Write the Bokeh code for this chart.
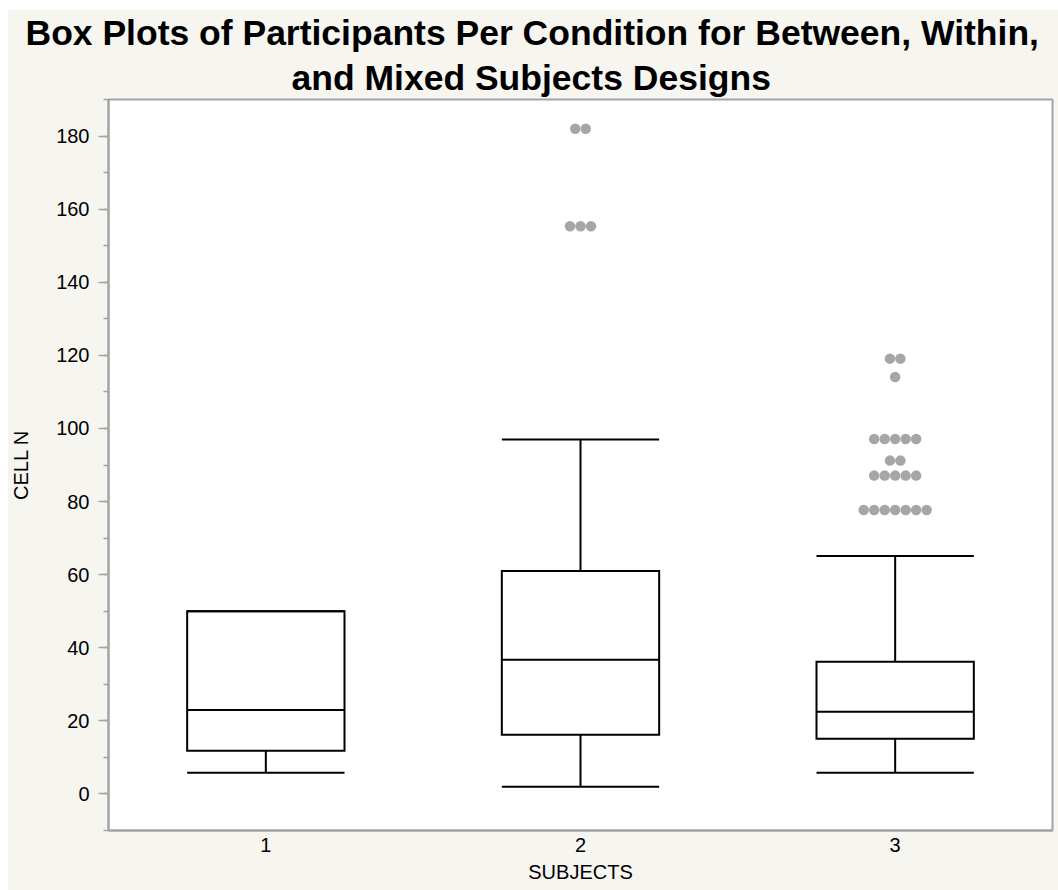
from collections import Counter

from bokeh.plotting import figure
from bokeh.models import Range1d, FixedTicker, SingleIntervalTicker, Title
from bokeh.embed import file_html
from bokeh.resources import INLINE

# ---------------- data ----------------
categories = [1, 2, 3]
tick_labels = {1: "1", 2: "2", 3: "3"}
lower_whisker = [5.8, 2.0, 5.8]
q1 = [11.8, 16.2, 15.1]
median = [23.0, 36.7, 22.5]
q3 = [50.0, 61.0, 36.2]
upper_whisker = [50.0, 97.0, 65.1]

outliers_1 = []
outliers_2 = [182.0, 182.0, 155.3, 155.3, 155.3]
outliers_3 = [119.1, 119.1, 114.1,
              97.1, 97.1, 97.1, 97.1, 97.1,
              91.2, 91.2,
              87.1, 87.1, 87.1, 87.1, 87.1,
              77.7, 77.7, 77.7, 77.7, 77.7, 77.7, 77.7]

title_line1 = "Box Plots of Participants Per Condition for Between, Within,"
title_line2 = "and Mixed Subjects Designs"
x_label = "SUBJECTS"
y_label = "CELL N"

# ---------------- styling ----------------
FONT = "Liberation Sans"
BG = "#f6f5f0"
AXIS_GRAY = "#a3a3a3"
DOT_GRAY = "#a6a6a6"
BOX_W = 0.5
DOT_STEP = 1 / 30.0


def dodge(cat, vals, step=DOT_STEP):
    xs, ys = [], []
    for v, n in Counter(vals).items():
        for i in range(n):
            xs.append(cat + (i - (n - 1) / 2.0) * step)
            ys.append(v)
    return xs, ys


p = figure(width=1051, height=881,
           x_range=Range1d(0.5, 3.5), y_range=Range1d(-10, 190),
           output_backend="svg", toolbar_location=None, title=None,
           min_border_left=100, min_border_right=6, min_border_top=89,
           min_border_bottom=60, margin=(9, 0, 0, 7),
           background_fill_color="white", border_fill_color=BG,
           outline_line_color=AXIS_GRAY, outline_line_width=2)

p.xgrid.visible = False
p.ygrid.visible = False

# titles (line 2 first: it sits closest to the plot)
for txt, off in ((title_line2, 183), (title_line1, -83)):
    t = Title(text=txt, align="left", text_font=FONT, text_font_style="bold",
              text_font_size="35.5px", text_color="black", offset=off,
              standoff=3)
    p.add_layout(t, "above")

# boxes
half = BOX_W / 2.0
left = [c - half for c in categories]
right = [c + half for c in categories]

p.quad(left=left, right=right, bottom=q1, top=q3, fill_color="white",
       line_color="black", line_width=2, line_join="miter")
# medians
p.segment(x0=left, x1=right, y0=median, y1=median, line_color="black", line_width=2)
# whisker stems
p.segment(x0=categories, x1=categories, y0=q1, y1=lower_whisker,
          line_color="black", line_width=2)
p.segment(x0=categories, x1=categories, y0=q3, y1=upper_whisker,
          line_color="black", line_width=2)
# whisker caps
p.segment(x0=left, x1=right, y0=lower_whisker, y1=lower_whisker,
          line_color="black", line_width=2)
p.segment(x0=left, x1=right, y0=upper_whisker, y1=upper_whisker,
          line_color="black", line_width=2)

# outliers
ox, oy = [], []
for c, vals in zip(categories, [outliers_1, outliers_2, outliers_3]):
    xs, ys = dodge(c, vals)
    ox += xs
    oy += ys
p.scatter(ox, oy, size=10.5, fill_color=DOT_GRAY, line_color=None)

# axes
xa = p.xaxis[0]
xa.ticker = FixedTicker(ticks=categories)
xa.major_label_overrides = tick_labels
xa.axis_label = x_label
xa.major_tick_out = 0
xa.major_tick_in = 0
xa.major_label_standoff = 7
xa.axis_label_standoff = 6

ya = p.yaxis[0]
ya.ticker = SingleIntervalTicker(interval=20, num_minor_ticks=2)
ya.axis_label = y_label
ya.major_tick_out = 10
ya.major_tick_in = 0
ya.minor_tick_out = 5
ya.minor_tick_in = 0
ya.major_label_standoff = 9
ya.axis_label_standoff = 21

for ax in (xa, ya):
    ax.axis_line_color = AXIS_GRAY
    ax.axis_line_width = 2
    ax.major_tick_line_color = AXIS_GRAY if ax is ya else None
    ax.minor_tick_line_color = AXIS_GRAY if ax is ya else None
    ax.major_tick_line_width = 1.5
    ax.minor_tick_line_width = 1.5
    ax.major_label_text_font = FONT
    ax.major_label_text_font_size = "20px"
    ax.major_label_text_color = "black"
    ax.axis_label_text_font = FONT
    ax.axis_label_text_font_size = "20px"
    ax.axis_label_text_font_style = "normal"
    ax.axis_label_text_color = "black"

open("out.html", "w").write(file_html(p, INLINE))
